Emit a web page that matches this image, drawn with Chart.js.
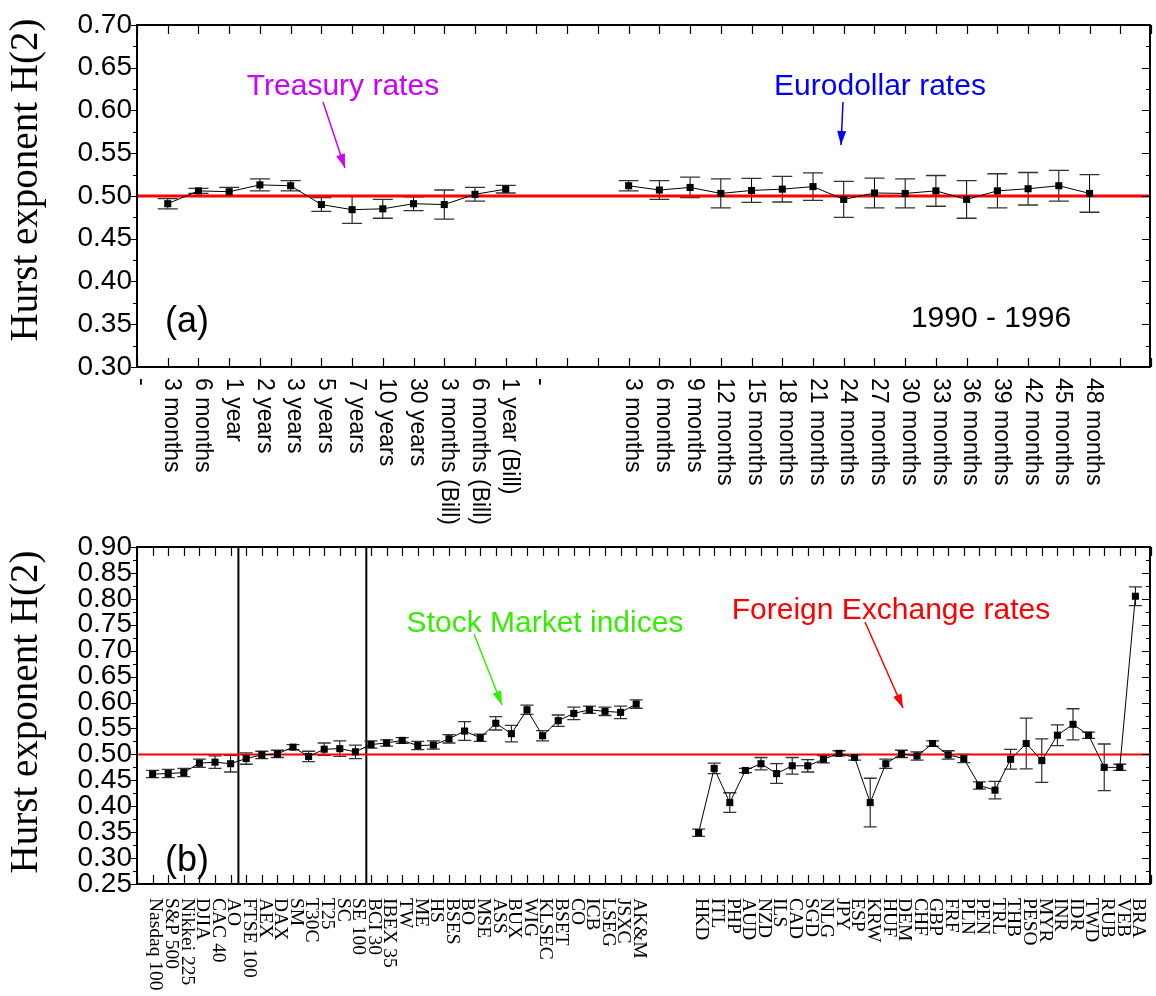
<!DOCTYPE html>
<html>
<head>
<meta charset="utf-8">
<script src="https://cdn.jsdelivr.net/npm/chart.js@4.4.1/dist/chart.umd.min.js"></script>
<style>
  html, body { margin: 0; padding: 0; background: #fff; }
  #wrap { position: relative; width: 1156px; height: 996px; }
  canvas { position: absolute; left: 0; }
  #chartA { top: 0; }
  #chartB { top: 528px; }
</style>
</head>
<body>
<div id="wrap">
  <canvas id="chartA" width="1156" height="528"></canvas>
  <canvas id="chartB" width="1156" height="468"></canvas>
</div>
<script>
// ---- panel (a): interest rates ----
const treasuryLabels = ['3 months', '6 months', '1 year', '2 years', '3 years', '5 years', '7 years',
  '10 years', '30 years', '3 months (Bill)', '6 months (Bill)', '1 year (Bill)'];
const treasuryH   = [0.491, 0.506, 0.505, 0.513, 0.512, 0.490, 0.484, 0.485, 0.491, 0.490, 0.502, 0.508];
const treasuryErr = [0.006, 0.003, 0.005, 0.007, 0.006, 0.008, 0.016, 0.011, 0.008, 0.017, 0.008, 0.0045];

const euroLabels = ['3 months', '6 months', '9 months', '12 months', '15 months', '18 months', '21 months',
  '24 months', '27 months', '30 months', '33 months', '36 months', '39 months', '42 months', '45 months', '48 months'];
const euroH   = [0.512, 0.507, 0.510, 0.503, 0.5065, 0.508, 0.511, 0.496, 0.5035, 0.503, 0.506, 0.496, 0.506, 0.5085, 0.512, 0.503];
const euroErr = [0.006, 0.011, 0.012, 0.017, 0.014, 0.015, 0.016, 0.021, 0.0175, 0.017, 0.018, 0.022, 0.020, 0.019, 0.018, 0.022];

// ---- panel (b): stock indices and FX rates ----
const stockLabels = ['Nasdaq 100', 'S&P 500', 'Nikkei 225', 'DJIA', 'CAC 40', 'AO', 'FTSE 100', 'AEX', 'DAX', 'SM',
  'T30C', 'T25', 'SC', 'SE 100', 'BCI 30', 'IBEX 35', 'TW', 'ME', 'HS', 'BSES', 'BO', 'MSE', 'ASS', 'BUX', 'WIG',
  'KLSEC', 'BSET', 'CO', 'ICB', 'LSEG', 'JSXC', 'AK&M'];
const stockH = [0.462, 0.463, 0.465, 0.483, 0.485, 0.482, 0.492, 0.499, 0.501, 0.514, 0.496, 0.510, 0.511, 0.505,
  0.519, 0.522, 0.527, 0.517, 0.518, 0.530, 0.545, 0.532, 0.560, 0.540, 0.586, 0.536, 0.565, 0.579, 0.586, 0.583, 0.581, 0.597];
const stockErr = [0.007, 0.008, 0.008, 0.008, 0.012, 0.016, 0.011, 0.007, 0.007, 0.005, 0.010, 0.012, 0.015, 0.013,
  0.007, 0.006, 0.0055, 0.008, 0.008, 0.008, 0.018, 0.007, 0.013, 0.016, 0.009, 0.010, 0.011, 0.012, 0.007, 0.008, 0.012, 0.008];

const fxLabels = ['HKD', 'ITL', 'PHP', 'AUD', 'NZD', 'ILS', 'CAD', 'SGD', 'NLG', 'JPY', 'ESP', 'KRW', 'HUF', 'DEM',
  'CHF', 'GBP', 'FRF', 'PLN', 'PEN', 'TRL', 'THB', 'PESO', 'MYR', 'INR', 'IDR', 'TWD', 'RUB', 'VEB', 'BRA'];
const fxH = [0.349, 0.473, 0.407, 0.469, 0.482, 0.463, 0.478, 0.478, 0.4905, 0.502, 0.494, 0.407, 0.482, 0.501,
  0.497, 0.521, 0.499, 0.492, 0.440, 0.431, 0.4905, 0.521, 0.488, 0.537, 0.558, 0.537, 0.475, 0.475, 0.805];
const fxErr = [0.007, 0.010, 0.019, 0.004, 0.012, 0.019, 0.016, 0.012, 0.007, 0.005, 0.005, 0.047, 0.009, 0.007,
  0.008, 0.005, 0.008, 0.008, 0.007, 0.017, 0.019, 0.049, 0.042, 0.020, 0.030, 0.006, 0.045, 0.006, 0.018];

// axis tick labels (gaps are empty categories)
const topAxisLabels = ['-', ...treasuryLabels, '-', '', '', ...euroLabels, '', ''];
const botAxisLabels = ['', ...stockLabels, '', '', '', ...fxLabels, ''];
const euroStart = 1 + treasuryLabels.length + 3;
const fxStart = 1 + stockLabels.length + 3;

const refLevel = 0.5;              // random walk value
const dividers = [6.5, 14.7];      // separators between index groups in (b)

function place(vals, start, n) {
  const out = new Array(n).fill(null);
  vals.forEach((v, i) => { out[start + i] = v; });
  return out;
}
function refLine(n) {
  const out = new Array(n).fill(null);
  out[0] = refLevel; out[n - 1] = refLevel;
  return out;
}

const SANS = '"Liberation Sans", Arial, sans-serif';
const SERIF = '"Liberation Serif", "Times New Roman", serif';

function series(vals, errs, start, n) {
  return {
    data: place(vals, start, n), errs: place(errs, start, n),
    borderColor: '#000', borderWidth: 1, backgroundColor: '#000',
    pointStyle: 'rect', pointRadius: 5, pointBorderWidth: 0, tension: 0
  };
}

const framePlugin = {
  id: 'frame',
  beforeDatasetsDraw(chart, args, o) {
    const { ctx, chartArea: a } = chart;
    const xs = chart.scales.x, ys = chart.scales.y;
    ctx.save();
    ctx.strokeStyle = '#000';
    ctx.lineWidth = 2;
    (o.dividers || []).forEach(d => {
      const px = xs.getPixelForValue(d);
      ctx.beginPath(); ctx.moveTo(px, a.top); ctx.lineTo(px, a.bottom); ctx.stroke();
    });
    // error bars
    chart.data.datasets.forEach((ds, di) => {
      if (!ds.errs) return;
      const meta = chart.getDatasetMeta(di);
      ds.data.forEach((v, i) => {
        if (v === null) return;
        const e = ds.errs[i];
        const px = meta.data[i].x;
        const y1 = ys.getPixelForValue(v + e), y2 = ys.getPixelForValue(v - e);
        ctx.lineWidth = 1;
        ctx.strokeStyle = '#000';
        ctx.beginPath(); ctx.moveTo(px, y1); ctx.lineTo(px, y2); ctx.stroke();
        ctx.strokeStyle = '#333';
        ctx.lineWidth = 1.3;
        ctx.beginPath();
        ctx.moveTo(px - o.cap, y1); ctx.lineTo(px + o.cap, y1);
        ctx.moveTo(px - o.cap, y2); ctx.lineTo(px + o.cap, y2);
        ctx.stroke();
      });
    });
    ctx.restore();
  },
  afterDraw(chart, args, o) {
    const { ctx, chartArea: a } = chart;
    const xs = chart.scales.x, ys = chart.scales.y;
    ctx.save();
    ctx.strokeStyle = '#000';
    ctx.lineWidth = 2;
    ctx.strokeRect(a.left, a.top, a.right - a.left - 1, a.bottom - a.top);
    // x ticks, inward on bottom and top
    ctx.lineWidth = 1.2;
    const labels = chart.data.labels;
    ctx.beginPath();
    labels.forEach((l, i) => {
      const px = Math.round(xs.getPixelForValue(i)) + 0.5;
      ctx.moveTo(px, a.bottom); ctx.lineTo(px, a.bottom - 9);
      ctx.moveTo(px, a.top); ctx.lineTo(px, a.top + 9);
    });
    // y ticks: outward on left, inward on right, minor every half step
    const steps = Math.round((ys.max - ys.min) / 0.025);
    for (let k = 0; k <= steps; k++) {
      const py = Math.round(ys.getPixelForValue(ys.min + k * 0.025)) + 0.5;
      const major = k % 2 === 0;
      ctx.moveTo(a.left, py); ctx.lineTo(a.left - (major ? 6 : 4), py);
      ctx.moveTo(a.right, py); ctx.lineTo(a.right - (major ? 9 : 5), py);
    }
    ctx.stroke();
    // x labels, rotated clockwise
    ctx.fillStyle = '#000';
    ctx.font = o.xFont;
    ctx.textAlign = 'left';
    ctx.textBaseline = 'middle';
    labels.forEach((l, i) => {
      if (!l) return;
      ctx.save();
      ctx.translate(xs.getPixelForValue(i) + o.xShift, a.bottom + o.xGap);
      ctx.rotate(Math.PI / 2);
      ctx.fillText(l, 0, 0);
      ctx.restore();
    });
    // y title
    ctx.save();
    ctx.font = '39px ' + SERIF;
    ctx.textAlign = 'center';
    ctx.translate(27, o.titleY);
    ctx.rotate(-Math.PI / 2);
    ctx.fillText('Hurst exponent H(2)', 0, 0);
    ctx.restore();
    // annotations
    (o.notes || []).forEach(n => {
      ctx.fillStyle = n.color;
      ctx.font = n.font;
      ctx.textAlign = n.align || 'center';
      ctx.fillText(n.text, n.x, n.y);
      if (n.arrow) {
        const [x1, y1, x2, y2] = n.arrow;
        ctx.strokeStyle = n.color;
        ctx.lineWidth = 1.5;
        ctx.beginPath(); ctx.moveTo(x1, y1); ctx.lineTo(x2, y2); ctx.stroke();
        const ang = Math.atan2(y2 - y1, x2 - x1);
        ctx.beginPath();
        ctx.moveTo(x2, y2);
        ctx.lineTo(x2 - 14 * Math.cos(ang) + 4.5 * Math.sin(ang), y2 - 14 * Math.sin(ang) - 4.5 * Math.cos(ang));
        ctx.lineTo(x2 - 14 * Math.cos(ang) - 4.5 * Math.sin(ang), y2 - 14 * Math.sin(ang) + 4.5 * Math.cos(ang));
        ctx.closePath();
        ctx.fill();
      }
    });
    ctx.restore();
  }
};

function makeChart(id, labels, datasets, yMin, yMax, padTop, xHeight, refWidth, opts) {
  const n = labels.length;
  datasets.push({
    data: refLine(n), spanGaps: true, borderColor: '#ff0000', borderWidth: refWidth,
    pointRadius: 0
  });
  return new Chart(document.getElementById(id), {
    type: 'line',
    data: { labels, datasets },
    options: {
      responsive: false,
      animation: false,
      devicePixelRatio: 1,
      layout: { padding: { top: padTop, left: 0, right: 0, bottom: 0 } },
      plugins: { legend: { display: false }, tooltip: { enabled: false }, frame: opts },
      scales: {
        x: {
          type: 'category', offset: false,
          grid: { display: false }, border: { display: false },
          ticks: { display: false },
          afterFit: s => { s.height = xHeight; }
        },
        y: {
          min: yMin, max: yMax,
          grid: { display: false, drawTicks: false }, border: { display: false },
          ticks: {
            stepSize: 0.05, autoSkip: false, padding: 5, color: '#000',
            font: { family: SANS, size: 28, lineHeight: 1 },
            callback: v => v.toFixed(2)
          },
          afterFit: s => { s.width = 137; }
        }
      }
    },
    plugins: [framePlugin]
  });
}

const nTop = topAxisLabels.length;
makeChart('chartA', topAxisLabels, [
  series(treasuryH, treasuryErr, 1, nTop),
  series(euroH, euroErr, euroStart, nTop)
], 0.30, 0.70, 25, 161, 3, {
  cap: 10, xFont: '23px ' + SANS, xShift: 4, xGap: 11, titleY: 180,
  notes: [
    { text: 'Treasury rates', x: 343, y: 87, color: '#cc00ff', font: '30px ' + SANS, arrow: [323, 102, 345, 168] },
    { text: 'Eurodollar rates', x: 880, y: 87, color: '#0000ff', font: '30px ' + SANS, arrow: [843, 102, 841, 145] },
    { text: '1990 - 1996', x: 991, y: 319, color: '#000', font: '30px ' + SANS },
    { text: '(a)', x: 165, y: 322, color: '#000', font: '36px ' + SANS, align: 'left' }
  ]
});

const nBot = botAxisLabels.length;
makeChart('chartB', botAxisLabels, [
  series(stockH, stockErr, 1, nBot),
  series(fxH, fxErr, fxStart, nBot)
], 0.25, 0.90, 16, 112, 2, {
  cap: 6.5, xFont: '19.5px ' + SERIF, xShift: 3, xGap: 14, titleY: 184, dividers,
  notes: [
    { text: 'Stock Market indices', x: 545, y: 96, color: '#33ee00', font: '30px ' + SANS, arrow: [474, 106, 502, 177] },
    { text: 'Foreign Exchange rates', x: 891, y: 83, color: '#ff0000', font: '30px ' + SANS, arrow: [865, 94, 903, 180] },
    { text: '(b)', x: 165, y: 333, color: '#000', font: '36px ' + SANS, align: 'left' }
  ]
});
</script>
</body>
</html>
